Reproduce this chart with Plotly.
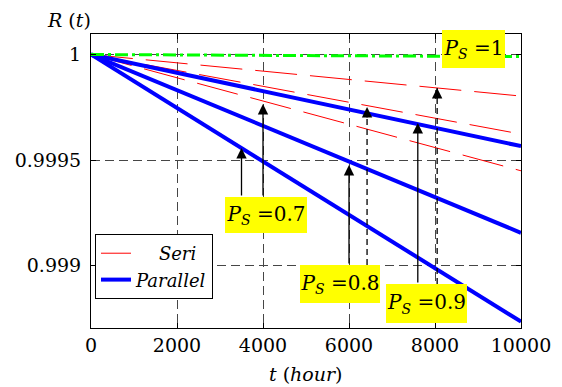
import plotly.graph_objects as go

# ---- data ----
t_hours = [0, 2000, 4000, 6000, 8000, 10000]

# Parallel (blue, solid)
par_ps09 = [1.0, 0.999913, 0.999826, 0.999740, 0.999653, 0.999566]
par_ps08 = [1.0, 0.999831, 0.999662, 0.999493, 0.999324, 0.999155]
par_ps07 = [1.0, 0.999747, 0.999494, 0.999240, 0.998987, 0.998734]

# Series (red, dashed)
seri_ps09 = [1.0, 0.999961, 0.999921, 0.999882, 0.999842, 0.999803]
seri_ps08 = [1.0, 0.999925, 0.999849, 0.999774, 0.999698, 0.999623]
seri_ps07 = [1.0, 0.999890, 0.999780, 0.999670, 0.999560, 0.999449]

# Ps = 1 (green, dash-dot)
ps1 = [1.0, 0.999998, 0.999996, 0.999994, 0.999992, 0.999990]

x_ticks = [0, 2000, 4000, 6000, 8000, 10000]
x_tick_labels = ["0", "2000", "4000", "6000", "8000", "10000"]
y_ticks = [0.999, 0.9995, 1.0]
y_tick_labels = ["0.999", "0.9995", "1"]

label_texts = ["1", "0.7", "0.8", "0.9"]

# arrows: (t, tip R, tail R, dashed?)
arrow_t = [3500, 4000, 6000, 6420, 7600, 8050]
arrow_tip = [0.999557, 0.999765, 0.999476, 0.999751, 0.999675, 0.999841]
arrow_tail = [0.999325, 0.999325, 0.999002, 0.999002, 0.998912, 0.998912]
arrow_dashed = [False, False, False, True, False, True]

# ---- styling ----
FONT = "DejaVu Serif"
fig = go.Figure()

red_sets = [seri_ps09, seri_ps08, seri_ps07]
for i, s in enumerate(red_sets):
    fig.add_trace(go.Scatter(
        x=t_hours, y=s, mode="lines",
        line=dict(color="#FF0000", width=1, dash="42px,13px"),
        name="&nbsp;&nbsp;&nbsp;&nbsp;<i>Seri</i>", legendgroup="seri",
        showlegend=(i == 0)))

blue_sets = [par_ps09, par_ps08, par_ps07]
for i, s in enumerate(blue_sets):
    fig.add_trace(go.Scatter(
        x=t_hours, y=s, mode="lines",
        line=dict(color="#0000FF", width=4),
        name="<i>Parallel</i>", legendgroup="par",
        showlegend=(i == 0)))

fig.add_trace(go.Scatter(
    x=t_hours, y=ps1, mode="lines",
    line=dict(color="#00FF00", width=3, dash="13px,4px,3px,4px"),
    showlegend=False))

annotations = []
shapes = []

# arrows
for t, tip, tail, dashed in zip(arrow_t, arrow_tip, arrow_tail, arrow_dashed):
    if dashed:
        shapes.append(dict(type="line", xref="x", yref="y", x0=t, x1=t,
                           y0=tail, y1=tip,
                           line=dict(color="black", width=1.3, dash="6px,4px")))
        annotations.append(dict(x=t, y=tip, xref="x", yref="y", ax=0, ay=12,
                                text="", showarrow=True, arrowhead=2,
                                arrowsize=1.6, arrowwidth=1.3, arrowcolor="black"))
    else:
        annotations.append(dict(x=t, y=tip, xref="x", yref="y",
                                ax=t, ay=tail, axref="x", ayref="y",
                                text="", showarrow=True, arrowhead=2,
                                arrowsize=1.6, arrowwidth=1.3, arrowcolor="black"))

# yellow labels (center t, center R, width, height)
label_pos = [(8884, 1.000026, 63, 38), (4070, 0.999239, 82, 36),
             (5791, 0.998912, 80, 38), (7802, 0.998820, 81, 39)]
for txt, (lx, ly, w, h) in zip(label_texts, label_pos):
    annotations.append(dict(
        x=lx, y=ly, xref="x", yref="y", showarrow=False,
        text="<i>P</i><sub><i>S</i></sub> =" + txt,
        font=dict(family=FONT, size=20, color="black"),
        bgcolor="#FFFF00", width=w, height=h, borderpad=0, borderwidth=0,
        xanchor="center", yanchor="middle"))

# axis titles
annotations.append(dict(x=-0.051, y=1.047, xref="paper", yref="paper",
                        text="<i>R</i> (<i>t</i>)", showarrow=False,
                        font=dict(family=FONT, size=19, color="black"),
                        xanchor="center", yanchor="middle"))
annotations.append(dict(x=0.5, y=-0.156, xref="paper", yref="paper",
                        text="<i>t</i> (<i>hour</i>)", showarrow=False,
                        font=dict(family=FONT, size=19, color="black"),
                        xanchor="center", yanchor="middle"))

axis_common = dict(
    showline=True, linecolor="black", linewidth=1, mirror="ticks",
    ticks="inside", ticklen=5, tickcolor="black",
    showgrid=True, gridcolor="rgb(70,70,70)", gridwidth=1, griddash="9px,5px",
    zeroline=False, automargin=False,
    tickfont=dict(family=FONT, size=19, color="black"),
)

fig.update_layout(
    width=562, height=387,
    margin=dict(l=91, r=41, t=34, b=59, autoexpand=False),
    paper_bgcolor="white", plot_bgcolor="white",
    font=dict(family=FONT, color="black"),
    xaxis=dict(range=[0, 10000], tickvals=x_ticks, ticktext=x_tick_labels,
               **axis_common),
    yaxis=dict(range=[0.998704, 1.0000972], tickvals=y_ticks,
               ticktext=y_tick_labels, ticklabelstandoff=5, **axis_common),
    legend=dict(x=0.0093, y=0.3197, xanchor="left", yanchor="top",
                bgcolor="white", bordercolor="black", borderwidth=1,
                font=dict(family=FONT, size=18, color="black"),
                tracegroupgap=0),
    annotations=annotations,
    shapes=shapes,
    showlegend=True,
)

fig.write_html("out.html")
